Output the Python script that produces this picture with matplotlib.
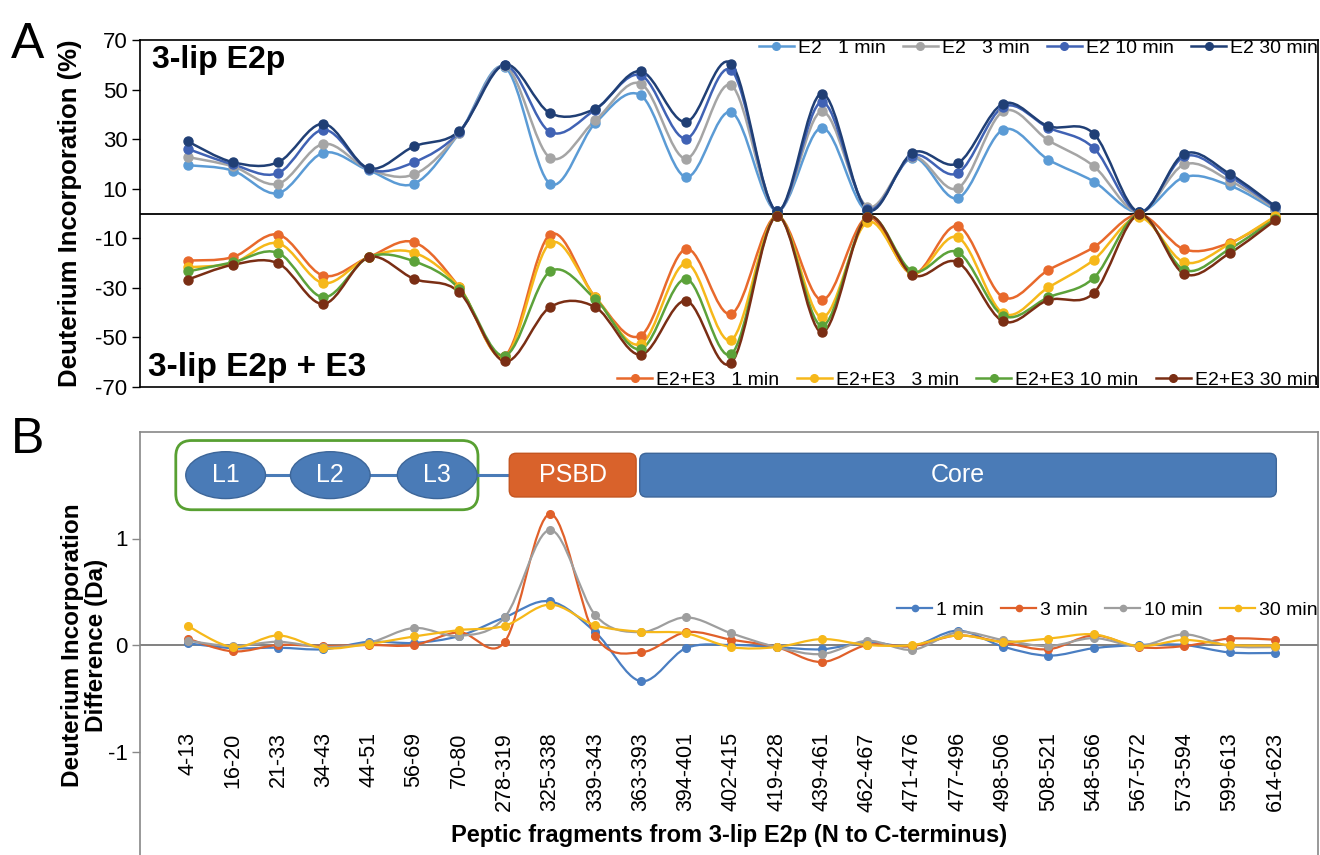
import numpy as np
import matplotlib
matplotlib.use("Agg")
import matplotlib.pyplot as plt
from matplotlib.path import Path
from matplotlib.patches import PathPatch, FancyBboxPatch, Ellipse
from matplotlib.lines import Line2D

plt.rcParams['font.family'] = ['Liberation Sans', 'DejaVu Sans']
plt.rcParams['axes.unicode_minus'] = False

fragments = ['4-13', '16-20', '21-33', '34-43', '44-51', '56-69', '70-80',
             '278-319', '325-338', '339-343', '363-393', '394-401', '402-415',
             '419-428', '439-461', '462-467', '471-476', '477-496', '498-506',
             '508-521', '548-566', '567-572', '573-594', '599-613', '614-623']

# panel A, deuterium incorporation (%)
e2_1 = [19.5, 17.3, 8.2, 24.5, 17.4, 12.0, 32.5, 59.1, 12.0, 36.5, 47.7, 14.7, 40.9,
        1.0, 34.6, 1.0, 22.5, 6.2, 33.8, 21.7, 12.9, 0.5, 14.7, 11.3, 1.5]
e2_3 = [22.8, 19.0, 12.0, 28.1, 17.8, 15.8, 32.5, 59.5, 22.5, 37.6, 52.4, 22.1, 51.7,
        1.0, 41.2, 2.8, 22.8, 10.2, 41.2, 29.5, 19.1, 0.5, 19.8, 13.3, 2.0]
e2_10 = [26.1, 19.8, 16.3, 33.8, 17.8, 20.7, 32.9, 59.8, 32.9, 41.9, 55.8, 30.2, 57.8,
         1.0, 45.0, 2.0, 23.4, 16.3, 43.0, 34.6, 26.4, 0.5, 23.0, 14.9, 2.6]
e2_30 = [29.1, 20.7, 20.7, 36.2, 18.2, 27.1, 33.3, 60.1, 40.5, 42.3, 57.4, 36.9, 60.5,
         1.0, 48.4, 1.5, 24.5, 20.3, 44.3, 35.2, 32.2, 0.5, 24.1, 16.0, 3.0]
e3_1 = [-19.0, -17.6, -8.5, -25.1, -17.6, -11.6, -29.8, -57.4, -8.5, -33.8, -49.3, -14.3, -40.5,
        -1.0, -34.9, -1.5, -24.4, -5.1, -33.8, -22.8, -13.6, -0.4, -14.5, -11.9, -1.5]
e3_3 = [-21.7, -20.0, -12.0, -28.1, -17.6, -15.8, -29.8, -58.0, -12.0, -33.8, -52.7, -20.1, -51.0,
        -1.0, -41.9, -3.5, -24.4, -9.6, -40.3, -29.8, -18.7, -1.5, -19.7, -12.3, -1.2]
e3_10 = [-23.4, -19.7, -15.9, -33.8, -17.6, -19.3, -30.4, -57.4, -23.4, -34.5, -54.7, -26.4, -56.7,
         -1.0, -45.3, -1.5, -23.3, -15.6, -41.2, -33.8, -26.0, -0.4, -22.8, -14.3, -2.2]
e3_30 = [-26.7, -20.7, -20.1, -36.5, -17.6, -26.4, -31.8, -59.7, -37.8, -37.8, -57.0, -35.2, -60.3,
         -1.0, -47.9, -1.5, -24.8, -19.7, -43.5, -34.9, -32.1, -0.4, -24.4, -16.0, -2.8]

# panel B, difference (Da)
d_1 = [0.016, -0.03, -0.025, -0.04, 0.03, 0.02, 0.085, 0.26, 0.41, 0.12, -0.34, -0.03, 0.0,
       -0.02, -0.04, 0.025, -0.01, 0.135, -0.015, -0.1, -0.03, 0.0, 0.0, -0.07, -0.075]
d_3 = [0.06, -0.06, 0.0, -0.01, 0.0, 0.0, 0.12, 0.03, 1.23, 0.085, -0.07, 0.12, 0.05,
       -0.02, -0.16, 0.0, -0.01, 0.09, 0.025, -0.04, 0.09, -0.02, -0.01, 0.06, 0.05]
d_10 = [0.04, -0.01, 0.03, -0.02, 0.02, 0.16, 0.085, 0.26, 1.08, 0.28, 0.12, 0.26, 0.11,
        -0.02, -0.085, 0.04, -0.045, 0.12, 0.047, -0.01, 0.065, -0.01, 0.1, -0.01, -0.02]
d_30 = [0.18, -0.02, 0.09, -0.03, 0.01, 0.08, 0.14, 0.18, 0.38, 0.185, 0.125, 0.11, -0.02,
        -0.02, 0.056, 0.0, 0.0, 0.09, 0.03, 0.06, 0.1, -0.01, 0.047, 0.0, -0.005]

top_labels = ['E2   1 min', 'E2   3 min', 'E2 10 min', 'E2 30 min']
low_labels = ['E2+E3   1 min', 'E2+E3   3 min', 'E2+E3 10 min', 'E2+E3 30 min']
diff_labels = ['1 min', '3 min', '10 min', '30 min']

top_colors = ['#5B9BD5', '#A5A5A5', '#4062B4', '#203F75']
low_colors = ['#E8692C', '#F6B81A', '#5CA23A', '#7A2E14']
diff_colors = ['#4A7EC2', '#E0602A', '#9E9E9E', '#F6B81A']


def smooth(xs, ys):
	# excel-like smoothed line as cubic bezier segments
	pts = np.column_stack([xs, ys]).astype(float)
	n = len(pts)
	verts = [pts[0]]
	codes = [Path.MOVETO]
	for i in range(n - 1):
		p0 = pts[max(i - 1, 0)]
		p1 = pts[i]
		p2 = pts[i + 1]
		p3 = pts[min(i + 2, n - 1)]
		verts += [p1 + (p2 - p0) / 6, p2 - (p3 - p1) / 6, p2]
		codes += [Path.CURVE4] * 3
	return Path(verts, codes)


def draw_series(ax, ys, color, lw, ms):
	xs = np.arange(len(ys))
	ax.add_patch(PathPatch(smooth(xs, ys), fill=False, edgecolor=color, lw=lw, zorder=3))
	ax.plot(xs, ys, ls='none', marker='o', ms=ms, color=color, zorder=4)
	return Line2D([], [], color=color, lw=lw, marker='o', ms=ms - 1)


fig = plt.figure(figsize=(13.2, 8.55), dpi=100)
W, H = 1320, 855
x_lo, x_hi = -1.05, 24.95

# ---- panel A
ax1 = fig.add_axes([140 / W, 1 - 387 / H, 1178 / W, 347 / H])
ax1.set_xlim(x_lo, x_hi)
ax1.set_ylim(-70, 70)
ax1.set_yticks(np.arange(-70, 71, 20))
ax1.set_xticks([])
ax1.tick_params(axis='y', direction='out', length=6, width=1, labelsize=16, pad=3)
for s in ax1.spines.values():
	s.set_linewidth(1.2)
ax1.axhline(0, color='black', lw=1.3, zorder=2)

h_top = [draw_series(ax1, ys, c, 1.8, 6.5) for ys, c in zip([e2_1, e2_3, e2_10, e2_30], top_colors)]
h_low = [draw_series(ax1, ys, c, 1.8, 6.5) for ys, c in zip([e3_1, e3_3, e3_10, e3_30], low_colors)]

ax1.set_ylabel('Deuterium Incorporation (%)', fontsize=18.5, weight='bold')
ax1.yaxis.set_label_coords(-0.049, 0.5)
ax1.text(0.010, 0.942, '3-lip E2p', transform=ax1.transAxes, fontsize=23, weight='bold', va='center')
ax1.text(0.007, 0.055, '3-lip E2p + E3', transform=ax1.transAxes, fontsize=24, weight='bold', va='center')

leg1 = ax1.legend(h_top, top_labels, ncol=4, loc='center right', bbox_to_anchor=(1.0, 0.977),
                  frameon=False, fontsize=14, handlelength=1.8, handletextpad=0.2,
                  columnspacing=0.9, borderaxespad=0, borderpad=0)
ax1.add_artist(leg1)
ax1.legend(h_low, low_labels, ncol=4, loc='center right', bbox_to_anchor=(1.0, 0.02),
           frameon=False, fontsize=14, handlelength=1.8, handletextpad=0.2,
           columnspacing=0.9, borderaxespad=0, borderpad=0)

# ---- panel B
ax2 = fig.add_axes([140 / W, 1 - 858 / H, 1178 / W, 426 / H])
ax2.set_xlim(x_lo, x_hi)
ax2.set_ylim(-2, 2)
ax2.set_yticks([-1, 0, 1])
ax2.set_xticks([])
ax2.tick_params(axis='y', direction='out', length=6, width=1, color='#888888', labelsize=16, pad=3)
for s in ax2.spines.values():
	s.set_color('#888888')
	s.set_linewidth(1.2)
ax2.axhline(0, color='#777777', lw=1.3, zorder=2)

h_diff = [draw_series(ax2, ys, c, 1.6, 5.5) for ys, c in zip([d_1, d_3, d_10, d_30], diff_colors)]

for i, lab in enumerate(fragments):
	ax2.text(i, -0.82, lab, rotation=90, ha='center', va='top', fontsize=15.5)

ax2.set_ylabel('Deuterium Incorporation\nDifference (Da)', fontsize=17.5, weight='bold', linespacing=1.05)
ax2.yaxis.set_label_coords(-0.027, 0.5)
ax2.text(0.5, 0.052, 'Peptic fragments from 3-lip E2p (N to C-terminus)', transform=ax2.transAxes,
         ha='center', va='center', fontsize=17, weight='bold')

ax2.legend(h_diff, diff_labels, ncol=4, loc='center right', bbox_to_anchor=(1.0, 0.582),
           frameon=False, fontsize=14, handlelength=1.8, handletextpad=0.2,
           columnspacing=0.9, borderaxespad=0, borderpad=0)

# domain diagram
dom_blue = '#4A7BB7'
asp = (1178 / 26) / 106.5
ax2.add_patch(FancyBboxPatch((-0.26, 1.27), 6.67, 0.65, boxstyle='round,pad=0,rounding_size=0.35',
                             mutation_aspect=asp, fill=False, edgecolor='#58A032', lw=2, zorder=5))
ax2.plot([0.84, 7.1], [1.595, 1.595], color=dom_blue, lw=2.2, zorder=5)
for cx, name in zip([0.84, 3.15, 5.51], ['L1', 'L2', 'L3']):
	ax2.add_patch(Ellipse((cx, 1.595), 1.76, 0.44, facecolor=dom_blue, edgecolor='#3D6699', lw=1, zorder=6))
	ax2.text(cx, 1.595, name, ha='center', va='center', color='white', fontsize=18, zorder=7)
ax2.add_patch(FancyBboxPatch((7.1, 1.39), 2.8, 0.41, boxstyle='round,pad=0,rounding_size=0.15',
                             mutation_aspect=asp, facecolor='#D9622B', edgecolor='#C45520', lw=1, zorder=6))
ax2.text(8.5, 1.595, 'PSBD', ha='center', va='center', color='white', fontsize=18, zorder=7)
ax2.add_patch(FancyBboxPatch((9.98, 1.39), 14.05, 0.41, boxstyle='round,pad=0,rounding_size=0.15',
                             mutation_aspect=asp, facecolor=dom_blue, edgecolor='#3D6699', lw=1, zorder=6))
ax2.text(17.0, 1.595, 'Core', ha='center', va='center', color='white', fontsize=18, zorder=7)

fig.text(0.008, 1 - 45 / H, 'A', fontsize=36, va='center', ha='left')
fig.text(0.008, 1 - 440 / H, 'B', fontsize=36, va='center', ha='left')

fig.savefig('out.png', dpi=100)
